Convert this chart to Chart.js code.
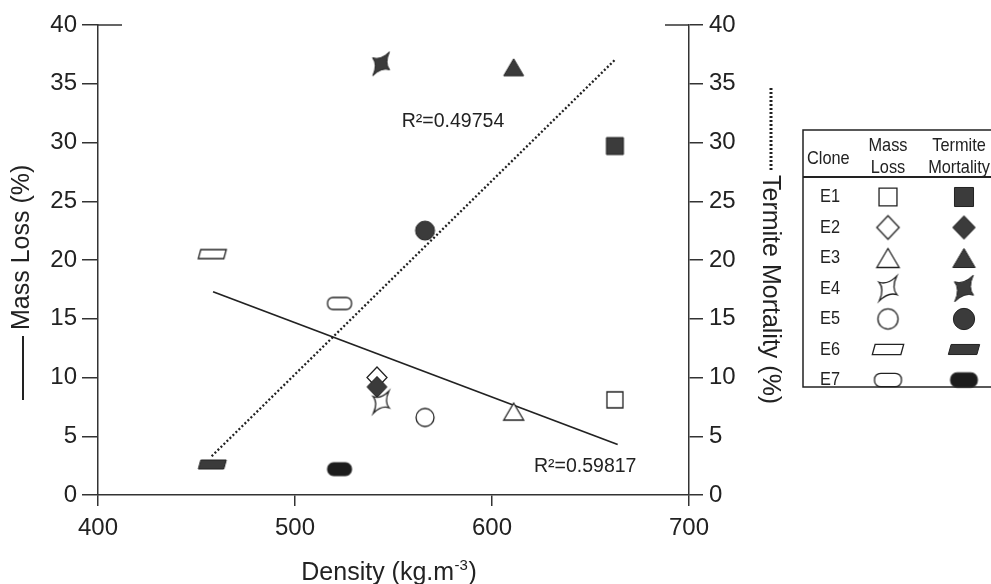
<!DOCTYPE html>
<html><head><meta charset="utf-8">
<script src="https://cdn.jsdelivr.net/npm/chart.js@4.4.0/dist/chart.umd.min.js"></script>
<style>html,body{margin:0;padding:0;background:#fff;overflow:hidden}#wrap{width:991px;height:584px;position:relative}</style>
</head><body><div id="wrap"><canvas id="c" width="991" height="584"></canvas></div>
<script>
// ---------------- data ----------------
const clones = ['E1', 'E2', 'E3', 'E4', 'E5', 'E6', 'E7'];
const density = [662.4, 541.6, 611.0, 543.7, 566.0, 458.0, 522.6];
const massLoss = [8.1, 10.0, 7.1, 7.9, 6.6, 20.5, 16.3];
const termiteMortality = [29.7, 9.2, 36.4, 36.7, 22.5, 2.6, 2.2];
const massLossTrendX = [458.4, 663.8];
const massLossTrendY = [17.3, 4.3];
const mortalityTrendX = [457.7, 662.8];
const mortalityTrendY = [3.3, 37.1];
const xTickValues = [400, 500, 600, 700];
const yTickValues = [0, 5, 10, 15, 20, 25, 30, 35, 40];
const r2Texts = ['R\u00B2=0.49754', 'R\u00B2=0.59817'];
const markerShapes = ['square', 'diamond', 'triangle', 'star', 'circle', 'para', 'pill'];

// ---------------- styling ----------------
const FONT = '"Liberation Sans", Arial, Helvetica, sans-serif';
const INK = '#222';
const FILL = '#3b3b3b';
const r2Anchors = [{ x: 554.2, y: 31.8 }, { x: 621.3, y: 2.4 }];

function roundRectPath(c, x, y, w, h, r) {
  c.moveTo(x + r, y); c.lineTo(x + w - r, y); c.arcTo(x + w, y, x + w, y + r, r);
  c.lineTo(x + w, y + h - r); c.arcTo(x + w, y + h, x + w - r, y + h, r);
  c.lineTo(x + r, y + h); c.arcTo(x, y + h, x, y + h - r, r);
  c.lineTo(x, y + r); c.arcTo(x, y, x + r, y, r); c.closePath();
}
function makeMarker(shape, filled, k) {
  const dims = { square: [16, 16], diamond: [20, 21], triangle: [20, 17], star: [27, 27], circle: [18, 18], para: [28, 9], pill: [24, 12] };
  let [w, h] = dims[shape];
  if (filled && shape === 'square') { w = h = 17; }
  if (filled && shape === 'circle') { w = h = 19; }
  if (filled && shape === 'pill') { h = 13; }
  if (filled && shape === 'star') { w = h = 29; }
  w *= k; h *= k;
  const pad = 3;
  const cv = document.createElement('canvas');
  cv.width = Math.ceil(w + 2 * pad); cv.height = Math.ceil(h + 2 * pad);
  const c = cv.getContext('2d');
  const cx = cv.width / 2, cy = cv.height / 2;
  c.beginPath();
  if (shape === 'square') c.rect(cx - w / 2, cy - h / 2, w, h);
  else if (shape === 'diamond') { c.moveTo(cx, cy - h / 2); c.lineTo(cx + w / 2, cy); c.lineTo(cx, cy + h / 2); c.lineTo(cx - w / 2, cy); c.closePath(); }
  else if (shape === 'triangle') { c.moveTo(cx, cy - h / 2); c.lineTo(cx + w / 2, cy + h / 2); c.lineTo(cx - w / 2, cy + h / 2); c.closePath(); }
  else if (shape === 'circle') c.arc(cx, cy, w / 2, 0, Math.PI * 2);
  else if (shape === 'para') { const s = 2.5 * k; c.moveTo(cx - w / 2 + s, cy - h / 2); c.lineTo(cx + w / 2, cy - h / 2); c.lineTo(cx + w / 2 - s, cy + h / 2); c.lineTo(cx - w / 2, cy + h / 2); c.closePath(); }
  else if (shape === 'pill') roundRectPath(c, cx - w / 2, cy - h / 2, w, h, h * 0.45);
  else if (shape === 'star') {
    const R = w / 2;
    const angs = [-55, 35, 125, 215].map(a => a * Math.PI / 180);
    const lens = [R, 0.72 * R, R, 0.72 * R];
    const pts = angs.map((a, i) => [cx + Math.cos(a) * lens[i], cy + Math.sin(a) * lens[i]]);
    c.moveTo(pts[0][0], pts[0][1]);
    for (let i = 0; i < 4; i++) {
      const j = (i + 1) % 4;
      const ma = angs[i] + Math.PI / 4;
      c.quadraticCurveTo(cx + Math.cos(ma) * 0.22 * R, cy + Math.sin(ma) * 0.22 * R, pts[j][0], pts[j][1]);
    }
    c.closePath();
  }
  c.fillStyle = filled ? (shape === 'pill' ? '#1c1c1c' : FILL) : '#fff';
  c.fill();
  c.lineWidth = filled ? 1 : 1.3;
  c.strokeStyle = INK;
  c.stroke();
  return cv;
}
const openMarkers = markerShapes.map(s => makeMarker(s, false, 1));
const filledMarkers = markerShapes.map(s => makeMarker(s, true, 1));
const openLegend = markerShapes.map(s => makeMarker(s, false, 1.12));
const filledLegend = markerShapes.map(s => makeMarker(s, true, 1.12));

// ---------------- datasets ----------------
const datasets = [];
datasets.push({
  type: 'line', label: 'Mass Loss trend', yAxisID: 'y', order: 100,
  data: massLossTrendX.map((x, i) => ({ x, y: massLossTrendY[i] })),
  borderColor: INK, borderWidth: 1.8, pointRadius: 0, fill: false
});
datasets.push({
  type: 'line', label: 'Termite Mortality trend', yAxisID: 'y2', order: 99,
  data: mortalityTrendX.map((x, i) => ({ x, y: mortalityTrendY[i] })),
  borderColor: INK, borderWidth: 2.3, borderDash: [2, 2.2], pointRadius: 0, fill: false
});
clones.forEach((c, i) => {
  datasets.push({
    label: c + ' Mass Loss', yAxisID: 'y', order: i === 1 ? 50 : (i === 3 ? 30 : 10),
    data: [{ x: density[i], y: massLoss[i] }], pointStyle: openMarkers[i], pointRadius: 10
  });
  datasets.push({
    label: c + ' Termite Mortality', yAxisID: 'y2', order: i === 1 ? 40 : 10,
    data: [{ x: density[i], y: termiteMortality[i] }], pointStyle: filledMarkers[i], pointRadius: 10
  });
});

// ---------------- decorations plugin ----------------
const deco = {
  id: 'deco',
  afterDraw(chart) {
    const c = chart.ctx;
    const xs = chart.scales.x, ys = chart.scales.y;
    const L = chart.chartArea.left, R = chart.chartArea.right, T = chart.chartArea.top;
    c.save();
    c.strokeStyle = '#333'; c.lineWidth = 1.5;
    c.beginPath(); c.moveTo(L, T); c.lineTo(L + 24, T); c.moveTo(R, T); c.lineTo(R - 24, T); c.stroke();

    // R^2 labels
    c.fillStyle = INK; c.font = '19.5px ' + FONT; c.textBaseline = 'middle'; c.textAlign = 'left';
    r2Texts.forEach((t, i) => {
      c.fillText(t, xs.getPixelForValue(r2Anchors[i].x), ys.getPixelForValue(r2Anchors[i].y));
    });

    // x title
    const p1 = 'Density (kg.m', p3 = ')';
    c.font = '25px ' + FONT; const w1 = c.measureText(p1).width, w3 = c.measureText(p3).width;
    c.font = '15px ' + FONT; const w2 = c.measureText('-3').width;
    let x0 = (L + R) / 2 - 5 - (w1 + w2 + w3) / 2;
    const yb = 580;
    c.textBaseline = 'alphabetic';
    c.font = '25px ' + FONT; c.fillText(p1, x0, yb);
    c.font = '15px ' + FONT; c.fillText('-3', x0 + w1 + 0.5, yb - 10);
    c.font = '25px ' + FONT; c.fillText(p3, x0 + w1 + w2 + 1, yb);

    // left title (rotated -90)
    c.save();
    c.translate(22, 0);
    c.rotate(-Math.PI / 2);
    c.font = '25px ' + FONT; c.textBaseline = 'middle'; c.textAlign = 'left';
    const lineStart = -400, lineEnd = -336;
    c.strokeStyle = INK; c.lineWidth = 2;
    c.beginPath(); c.moveTo(lineStart, 1); c.lineTo(lineEnd, 1); c.stroke();
    c.fillText('Mass Loss (%)', lineEnd + 6, 0);
    c.restore();

    // right title (rotated +90)
    c.save();
    c.translate(770, 0);
    c.rotate(Math.PI / 2);
    c.font = '25px ' + FONT; c.textBaseline = 'middle'; c.textAlign = 'left';
    c.strokeStyle = INK; c.lineWidth = 3; c.setLineDash([2, 2]);
    c.beginPath(); c.moveTo(88, -1); c.lineTo(171, -1); c.stroke();
    c.setLineDash([]);
    c.fillText('Termite Mortality (%)', 175, 0);
    c.restore();

    // legend table
    const bx = 803, by = 130, bb = 387;
    c.strokeStyle = INK; c.lineWidth = 1.5;
    c.strokeRect(bx, by, 260, bb - by);
    c.lineWidth = 2;
    c.beginPath(); c.moveTo(bx, 177); c.lineTo(1000, 177); c.stroke();
    const txt = (s, x, y, align) => {
      c.save(); c.translate(x, y); c.scale(0.86, 1);
      c.textAlign = align; c.textBaseline = 'middle'; c.fillText(s, 0, 0); c.restore();
    };
    c.font = '19px ' + FONT; c.fillStyle = INK;
    txt('Clone', 807, 159, 'left');
    txt('Mass', 888, 146, 'center');
    txt('Loss', 888, 168, 'center');
    txt('Termite', 959, 146, 'center');
    txt('Mortality', 959, 168, 'center');
    clones.forEach((cl, i) => {
      const ry = 197 + 30.5 * i;
      txt(cl, 820, ry, 'left');
      const om = openLegend[i], fm = filledLegend[i];
      c.drawImage(om, 888 - om.width / 2, ry - om.height / 2);
      c.drawImage(fm, 964 - fm.width / 2, ry - fm.height / 2);
    });
    c.restore();
  }
};

const tickFont = { family: FONT, size: 24 };
const gridBase = { drawOnChartArea: false, drawTicks: true, color: '#333', lineWidth: 1.5 };
const borderBase = { display: true, color: '#333', width: 1.5 };
new Chart(document.getElementById('c'), {
  type: 'scatter',
  data: { datasets },
  options: {
    responsive: false, animation: false, devicePixelRatio: 1,
    layout: { padding: { top: 25, left: 0, right: 0, bottom: 0 } },
    plugins: { legend: { display: false }, tooltip: { enabled: false } },
    events: [],
    scales: {
      x: {
        type: 'linear', min: 400, max: 700,
        afterBuildTicks: s => { s.ticks = xTickValues.map(v => ({ value: v })); },
        afterFit: s => { s.height = 89; },
        grid: { ...gridBase, tickLength: 11 }, border: borderBase,
        ticks: { font: tickFont, color: INK, padding: 8, maxRotation: 0 }
      },
      y: {
        position: 'left', min: 0, max: 40,
        afterBuildTicks: s => { s.ticks = yTickValues.map(v => ({ value: v })); },
        afterFit: s => { s.width = 98; },
        grid: { ...gridBase, tickLength: 16 }, border: borderBase,
        ticks: { font: tickFont, color: INK, padding: 5 }
      },
      y2: {
        position: 'right', min: 0, max: 40,
        afterBuildTicks: s => { s.ticks = yTickValues.map(v => ({ value: v })); },
        afterFit: s => { s.width = 302; },
        grid: { ...gridBase, tickLength: 14 }, border: borderBase,
        ticks: { font: tickFont, color: INK, padding: 6 }
      }
    }
  },
  plugins: [deco]
});
</script></body></html>
